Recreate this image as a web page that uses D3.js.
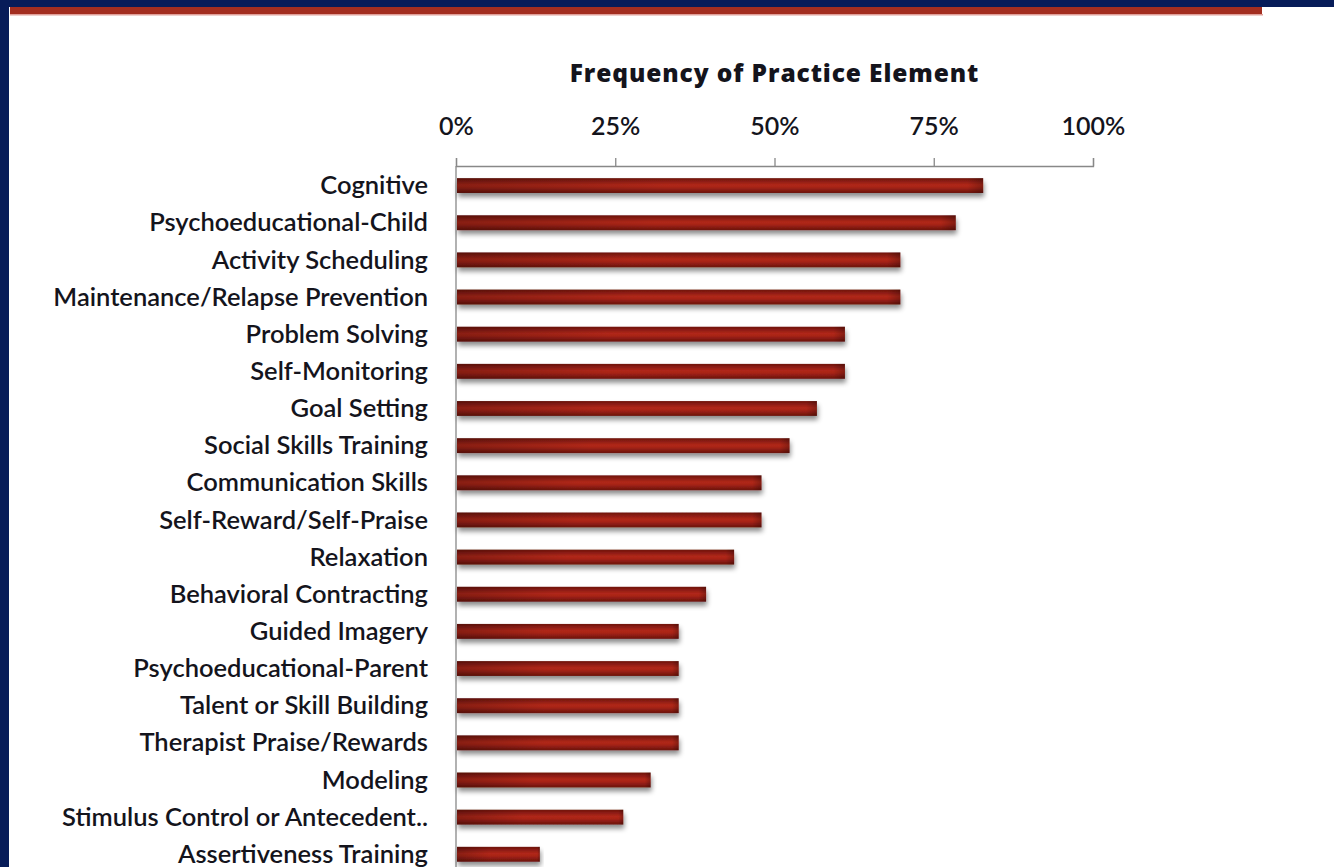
<!DOCTYPE html>
<html>
<head>
<meta charset="utf-8">
<script src="https://cdn.jsdelivr.net/npm/d3@7"></script>
<style>
  html, body { margin: 0; padding: 0; background: #fff; overflow: hidden; }
  svg { display: block; }
</style>
</head>
<body>
<svg id="chart" width="1334" height="867"></svg>
<script>
// practice elements, top to bottom
var categories = [
  "Cognitive", "Psychoeducational-Child", "Activity Scheduling",
  "Maintenance/Relapse Prevention", "Problem Solving", "Self-Monitoring",
  "Goal Setting", "Social Skills Training", "Communication Skills",
  "Self-Reward/Self-Praise", "Relaxation", "Behavioral Contracting",
  "Guided Imagery", "Psychoeducational-Parent", "Talent or Skill Building",
  "Therapist Praise/Rewards", "Modeling", "Stimulus Control or Antecedent..",
  "Assertiveness Training"
];
// frequency, percent
var values = [82.6, 78.3, 69.6, 69.6, 60.9, 60.9, 56.5, 52.2, 47.8, 47.8,
  43.5, 39.1, 34.8, 34.8, 34.8, 34.8, 30.4, 26.1, 13.0];
var tickValues = [0, 25, 50, 75, 100];
var title = "Frequency of Practice Element";

var svg = d3.select("#chart"),
  W = +svg.attr("width"),
  H = +svg.attr("height");

// slide frame
svg.append("rect").attr("x", 0).attr("y", 0).attr("width", W).attr("height", H).attr("fill", "#fff");
svg.append("rect").attr("x", 0).attr("y", 0).attr("width", W).attr("height", 7).attr("fill", "#071c59");
svg.append("rect").attr("x", 0).attr("y", 0).attr("width", 9).attr("height", H).attr("fill", "#071c59");
svg.append("rect").attr("x", 10).attr("y", 7).attr("width", 1252).attr("height", 8).attr("fill", "#a32e20");
svg.append("rect").attr("x", 10).attr("y", 14).attr("width", 1253).attr("height", 1.5).attr("fill", "#e0a09a");

var defs = svg.append("defs");
var grad = defs.append("linearGradient").attr("id", "barGrad")
  .attr("x1", 0).attr("y1", 0).attr("x2", 0).attr("y2", 1);
grad.append("stop").attr("offset", "0%").attr("stop-color", "#6e140d");
grad.append("stop").attr("offset", "45%").attr("stop-color", "#b0271a");
grad.append("stop").attr("offset", "60%").attr("stop-color", "#a92418");
grad.append("stop").attr("offset", "100%").attr("stop-color", "#6a130c");

var hgrad = defs.append("linearGradient").attr("id", "barShade")
  .attr("x1", 0).attr("y1", 0).attr("x2", 1).attr("y2", 0);
hgrad.append("stop").attr("offset", "0%").attr("stop-color", "#000").attr("stop-opacity", 0.22);
hgrad.append("stop").attr("offset", "40%").attr("stop-color", "#000").attr("stop-opacity", 0);
hgrad.append("stop").attr("offset", "97%").attr("stop-color", "#000").attr("stop-opacity", 0);
hgrad.append("stop").attr("offset", "100%").attr("stop-color", "#000").attr("stop-opacity", 0.25);

var shadow = defs.append("filter").attr("id", "shadow")
  .attr("x", "-5%").attr("y", "-50%").attr("width", "110%").attr("height", "250%");
shadow.append("feDropShadow").attr("dx", 1).attr("dy", 4).attr("stdDeviation", 2.5)
  .attr("flood-color", "#000").attr("flood-opacity", 0.45);

var margin = { left: 456, right: 241, top: 166 };
var x = d3.scaleLinear().domain([0, 100]).range([margin.left, W - margin.right]);
var y = d3.scaleBand().domain(categories).range([167, 167 + 37.15 * categories.length]).paddingInner(0.6).paddingOuter(0.3);

var fontFamily = "Lato, 'Open Sans', sans-serif";
var textColor = "#14141c";

svg.append("text")
  .attr("x", (x(0) + x(100)) / 2)
  .attr("y", 82)
  .attr("text-anchor", "middle")
  .style("font-family", "'Open Sans', Lato, sans-serif")
  .style("font-weight", 800)
  .style("font-size", "24.5px")
  .style("letter-spacing", "0.9px")
  .attr("fill", textColor)
  .text(title);

// top axis
var axis = svg.append("g")
  .attr("transform", "translate(0," + margin.top + ")")
  .call(d3.axisTop(x).tickValues(tickValues).tickSize(8).tickPadding(23)
    .tickFormat(function(d) { return d + "%"; }));
axis.select(".domain").attr("stroke", "#888").attr("stroke-width", 1.3);
axis.selectAll(".tick line").attr("stroke", "#888").attr("stroke-width", 1.3);
axis.selectAll(".tick text")
  .style("font-family", fontFamily)
  .style("font-weight", 600)
  .style("font-size", "25px")
  .attr("fill", textColor);

// vertical axis line
svg.append("line")
  .attr("x1", x(0)).attr("x2", x(0))
  .attr("y1", margin.top).attr("y2", H)
  .attr("stroke", "#888").attr("stroke-width", 1.3);

var rows = svg.append("g").selectAll("g")
  .data(categories)
  .enter()
  .append("g");

rows.append("rect")
  .attr("x", x(0) + 1)
  .attr("y", function(d) { return y(d); })
  .attr("width", function(d, i) { return x(values[i]) - x(0); })
  .attr("height", y.bandwidth())
  .attr("fill", "url(#barGrad)")
  .attr("filter", "url(#shadow)");

rows.append("rect")
  .attr("x", x(0) + 1)
  .attr("y", function(d) { return y(d); })
  .attr("width", function(d, i) { return x(values[i]) - x(0); })
  .attr("height", y.bandwidth())
  .attr("fill", "url(#barShade)");

rows.append("text")
  .attr("x", x(0) - 28)
  .attr("y", function(d) { return y(d) + y.bandwidth() / 2; })
  .attr("dy", "0.34em")
  .attr("text-anchor", "end")
  .style("font-family", fontFamily)
  .style("font-weight", 600)
  .style("font-size", "25.5px")
  .attr("fill", textColor)
  .text(function(d) { return d; });
</script>
</body>
</html>
